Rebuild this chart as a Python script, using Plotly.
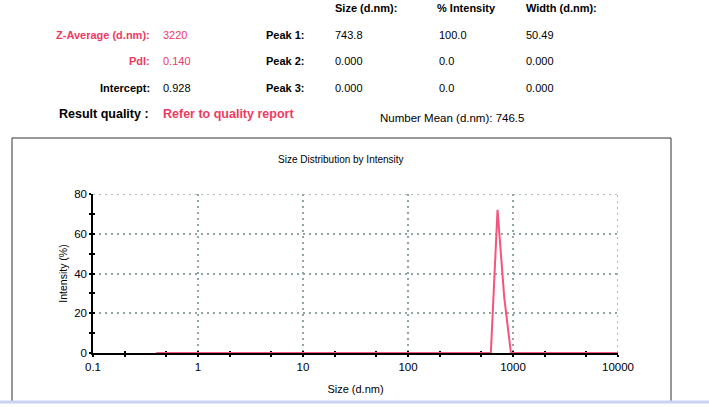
import plotly.graph_objects as go

# ---- data ----
sizes_nm = [0.4, 0.4632, 0.5365, 0.6213, 0.7195, 0.8332, 0.9649, 1.117, 1.294, 1.499,
            1.736, 2.01, 2.328, 2.696, 3.122, 3.615, 4.187, 4.849, 5.615, 6.503,
            7.531, 8.721, 10.1, 11.7, 13.54, 15.69, 18.17, 21.04, 24.36, 28.21,
            32.67, 37.84, 43.82, 50.75, 58.77, 68.06, 78.82, 91.28, 105.7, 122.4,
            141.8, 164.2, 190.1, 220.2, 255.0, 295.3, 342.0, 396.1, 458.7, 531.2,
            615.1, 712.4, 825.0, 955.4, 1106, 1281, 1484, 1718, 1990, 2305,
            2669, 3091, 3580, 4145, 4801, 5560, 6439, 7456, 8635, 10000]
intensity_pct = [0, 0, 0, 0, 0, 0, 0, 0, 0, 0,
                 0, 0, 0, 0, 0, 0, 0, 0, 0, 0,
                 0, 0, 0, 0, 0, 0, 0, 0, 0, 0,
                 0, 0, 0, 0, 0, 0, 0, 0, 0, 0,
                 0, 0, 0, 0, 0, 0, 0, 0, 0, 0,
                 0, 72.0, 28.0, 0, 0, 0, 0, 0, 0, 0,
                 0, 0, 0, 0, 0, 0, 0, 0, 0, 0]
x_tickvals = [0.1, 1, 10, 100, 1000, 10000]
x_ticktext = ["0.1", "1", "10", "100", "1000", "10000"]
y_tickvals = [0, 20, 40, 60, 80]

header_cols = ["Size (d.nm):", "% Intensity", "Width (d.nm):"]
peak_labels = ["Peak 1:", "Peak 2:", "Peak 3:"]
peak_sizes = ["743.8", "0.000", "0.000"]
peak_int = ["100.0", "0.0", "0.0"]
peak_width = ["50.49", "0.000", "0.000"]
left_labels = ["Z-Average (d.nm):", "PdI:", "Intercept:"]
left_values = ["3220", "0.140", "0.928"]
left_red = [True, True, False]

RED = "#ee3a62"
LINE = "#f4557a"
FONT = "Liberation Sans, Arial, sans-serif"

W, H = 709, 407
L, R, T, B = 93, 91, 194, 54
PW, PH = W - L - R, H - T - B


def px(x):
    return (x - L) / PW


def py(y):
    return (H - B - y) / PH


fig = go.Figure()
fig.add_trace(go.Scatter(x=sizes_nm, y=intensity_pct, mode="lines",
                         line=dict(color=LINE, width=2), showlegend=False,
                         hoverinfo="x+y"))

GRID = "#8fa6a6"
GDASH = "2px,4px"
axis_common = dict(showline=True, linecolor="black", linewidth=1.5,
                   tickcolor="black", zeroline=False, layer="below traces")

fig.update_layout(
    width=W, height=H,
    margin=dict(l=L, r=R, t=T, b=B),
    paper_bgcolor="white", plot_bgcolor="white",
    font=dict(family=FONT, size=11, color="black"),
    xaxis=dict(type="log", range=[-1, 4], tickvals=x_tickvals, ticktext=x_ticktext,
               ticks="outside", ticklen=2, tickwidth=1.5,
               minor=dict(ticks="outside", ticklen=2, tickcolor="black", tickwidth=1.5,
                          showgrid=False),
               showgrid=True, gridcolor=GRID, griddash=GDASH, gridwidth=1.5,
               tickfont=dict(size=11.5), title=dict(text="Size (d.nm)", font=dict(size=11), standoff=14),
               **axis_common),
    yaxis=dict(range=[0, 80], tickvals=y_tickvals, ticks="outside", ticklen=2, tickwidth=1.5,
               minor=dict(dtick=10, tick0=0, ticks="outside", ticklen=2, tickcolor="black",
                          tickwidth=1.5, showgrid=False),
               showgrid=True, gridcolor=GRID, griddash=GDASH, gridwidth=1.5,
               tickfont=dict(size=11.5), title=dict(text="Intensity (%)", font=dict(size=10.5), standoff=4),
               **axis_common),
    xaxis2=dict(type="log", range=[-1, 4], overlaying="x", anchor="y", side="bottom",
                tickvals=x_tickvals, showticklabels=False, ticks="inside", ticklen=2,
                tickwidth=1.5, tickcolor="black", showgrid=False, zeroline=False,
                layer="below traces",
                minor=dict(ticks="inside", ticklen=2, tickcolor="black", tickwidth=1.5,
                           showgrid=False)),
    yaxis2=dict(range=[0, 80], overlaying="y", anchor="x", side="left",
                tickvals=y_tickvals, showticklabels=False, ticks="inside", ticklen=2,
                tickwidth=1.5, tickcolor="black", showgrid=False, zeroline=False,
                layer="below traces",
                minor=dict(dtick=10, tick0=0, ticks="inside", ticklen=2, tickcolor="black",
                           tickwidth=1.5, showgrid=False)),
)
# invisible trace to activate overlay axes
fig.add_trace(go.Scatter(x=[sizes_nm[0]], y=[intensity_pct[0]], xaxis="x2", yaxis="y2",
                         mode="markers", marker=dict(opacity=0), showlegend=False,
                         hoverinfo="skip"))

# edge grid lines (top and right) that plotly drops at the range boundary
fig.add_shape(type="line", xref="x domain", yref="y", x0=0, x1=1,
              y0=y_tickvals[-1], y1=y_tickvals[-1], layer="below",
              line=dict(color=GRID, width=1.5, dash=GDASH))
fig.add_shape(type="line", xref="x", yref="y domain", x0=x_tickvals[-1], x1=x_tickvals[-1],
              y0=0, y1=1, layer="below",
              line=dict(color=GRID, width=1.5, dash=GDASH))

ann = []


def text(x, y, s, anchor="left", color="black", bold=False, size=11):
    ann.append(dict(x=px(x), y=py(y), xref="paper", yref="paper", text=(f"<b>{s}</b>" if bold else s),
                    showarrow=False, xanchor=anchor, yanchor="middle",
                    font=dict(family=FONT, size=size, color=color)))


col_x = [333, 435, 524]
for cx, s in zip(col_x, header_cols):
    text(cx, 8, s, bold=True)
rows_y = [35, 61, 88]
for i, ry in enumerate(rows_y):
    c = RED if left_red[i] else "black"
    text(152, ry, left_labels[i], anchor="right", color=c, bold=True)
    text(161, ry, left_values[i], color=c)
    text(307, ry, peak_labels[i], anchor="right", bold=True)
    text(col_x[0], ry, peak_sizes[i])
    text(col_x[1] + 2, ry, peak_int[i])
    text(col_x[2], ry, peak_width[i])
text(151, 114, "Result quality :", anchor="right", bold=True, size=12.5)
text(161, 114, "Refer to quality report", color=RED, bold=True, size=12.5)
text(378, 118, "Number Mean (d.nm): 746.5", size=11.5)
text(341, 159, "Size Distribution by Intensity", anchor="center", size=10)
fig.update_layout(annotations=ann)

fig.add_shape(type="path", xref="paper", yref="paper",
              path=f"M {px(12)} {py(401)} L {px(12)} {py(138)} L {px(671)} {py(138)} L {px(671)} {py(401)}",
              line=dict(color="#333333", width=1))
fig.add_shape(type="line", xref="paper", yref="paper", x0=px(0), x1=px(709), y0=py(402), y1=py(402),
              line=dict(color="#c9d2f2", width=3))

fig.write_html("out.html", config=dict(displayModeBar=False),
               post_script="document.body.style.margin='0';document.body.style.overflow='hidden';")
